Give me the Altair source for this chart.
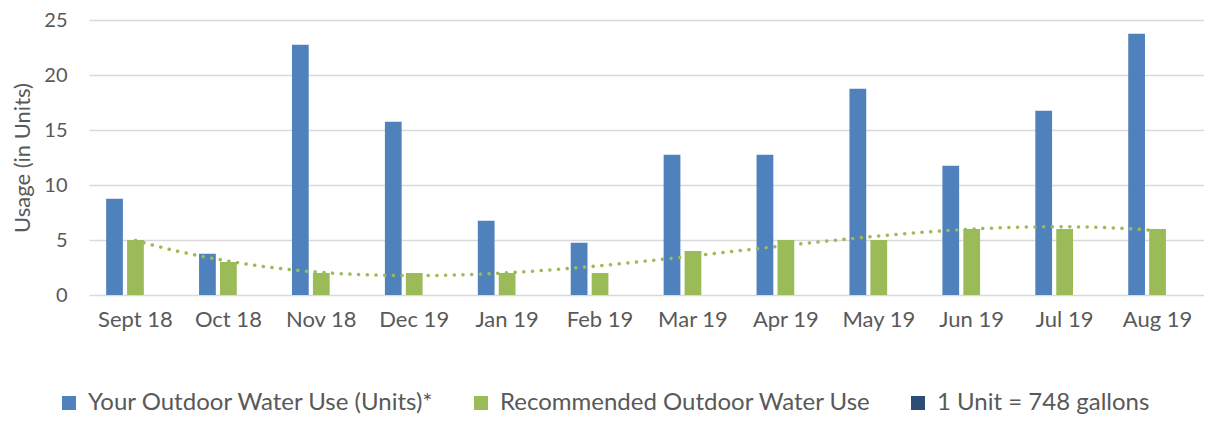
import altair as alt
import pandas as pd

months = ["Sept 18", "Oct 18", "Nov 18", "Dec 19", "Jan 19", "Feb 19",
          "Mar 19", "Apr 19", "May 19", "Jun 19", "Jul 19", "Aug 19"]
your_use = [8.75, 3.75, 22.75, 15.75, 6.75, 4.75, 12.75, 12.75, 18.75, 11.75, 16.75, 23.75]
recommended = [5, 3, 2, 2, 2, 2, 4, 5, 5, 6, 6, 6]
series = ["Your Outdoor Water Use (Units)*", "Recommended Outdoor Water Use", "1 Unit = 748 gallons"]
colors = ["#4f81bd", "#9bbb59", "#2c4d75"]
y_ticks = [0, 5, 10, 15, 20, 25]

rows = []
for i, m in enumerate(months):
    rows.append({"month": m, "idx": i, "series": series[0], "value": your_use[i]})
    rows.append({"month": m, "idx": i, "series": series[1], "value": recommended[i]})
df = pd.DataFrame(rows)
trend_df = pd.DataFrame({"idx": list(range(len(months))), "value": recommended})

FONT = "Lato"
TXT = "#595959"
yscale = alt.Scale(domain=[0, 25], nice=False)

y_enc = alt.Y("value:Q", scale=yscale,
              axis=alt.Axis(values=y_ticks, title="Usage (in Units)", grid=True,
                            gridColor="#d9d9d9", gridWidth=1.5, domain=False, ticks=False,
                            labelPadding=22, titlePadding=9, labelFontSize=20, titleFontSize=22,
                            labelColor=TXT, titleColor=TXT, titleFontWeight="normal",
                            labelFont=FONT, titleFont=FONT))

bars = alt.Chart(df).mark_bar().encode(
    x=alt.X("month:N", sort=months,
            scale=alt.Scale(paddingInner=0.324, paddingOuter=0.162),
            axis=alt.Axis(title=None, labelAngle=0, domain=False, ticks=False,
                          labelPadding=14, labelFontSize=22, labelColor=TXT, labelFont=FONT)),
    xOffset=alt.XOffset("series:N", scale=alt.Scale(domain=series, paddingInner=0.2, paddingOuter=0.1)),
    y=y_enc,
    color=alt.Color("series:N", scale=alt.Scale(domain=series, range=colors),
                    legend=alt.Legend(title=None, orient="none", direction="horizontal",
                                      legendX=-32, legendY=371, symbolType="square",
                                      symbolSize=196, symbolStrokeWidth=0, labelFontSize=24,
                                      labelColor=TXT, labelFont=FONT, labelOffset=7,
                                      columnPadding=34, columns=3, labelLimit=600)),
)

trend = alt.Chart(trend_df).transform_regression(
    "idx", "value", method="poly", order=3, extent=[0, 11]
).mark_line(color="#9bbb59", strokeWidth=3.5, strokeDash=[0.1, 8.6], strokeCap="round").encode(
    x=alt.X("idx:Q", scale=alt.Scale(domain=[-0.5, 11.5]), axis=None),
    y=alt.Y("value:Q", scale=yscale),
)

chart = alt.layer(bars, trend).resolve_scale(x="independent").properties(
    width=1115, height=275,
    autosize=alt.AutoSizeParams(type="none"),
    padding={"left": 81, "top": 12, "right": 0, "bottom": 119},
).configure(background="white").configure_view(stroke=None)

chart.save("out.html", embed_options={"renderer": "svg", "actions": False})
